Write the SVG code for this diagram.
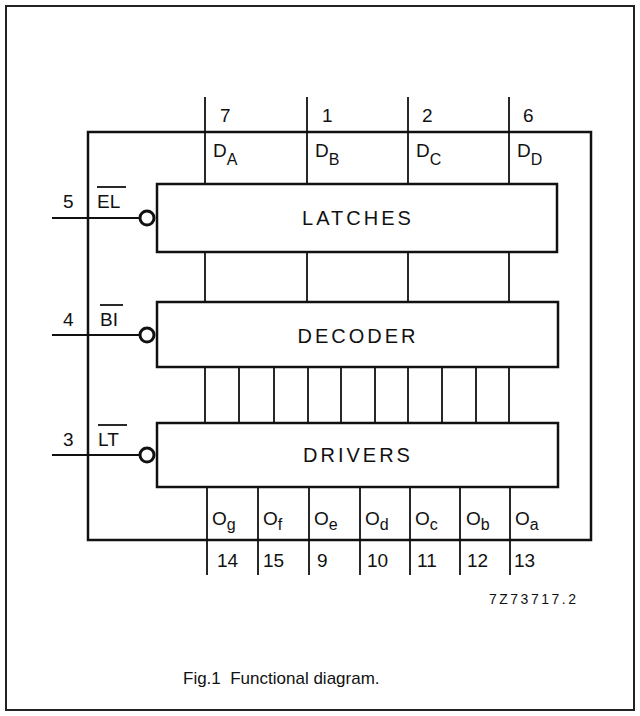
<svg xmlns="http://www.w3.org/2000/svg" width="640" height="716" viewBox="0 0 640 716">
<style>
.frame{fill:none;stroke:#222;stroke-width:2}
.box{fill:#fff;stroke:#111;stroke-width:2.5}
.w{fill:none;stroke:#111;stroke-width:1.8}
.bub{fill:#fff;stroke:#111;stroke-width:3}
text{font-family:"Liberation Sans",Arial,sans-serif;fill:#111}
.lbl{font-size:19px}
.blk{font-size:20px;letter-spacing:3px;text-anchor:middle}
.sub{font-size:16px}
.code{font-size:14px;letter-spacing:2.5px}
.cap{font-size:17px}
</style>
<rect class="frame" x="6" y="6" width="628" height="704"/>
<g id="package">
<rect x="88" y="132" width="503" height="408" fill="none" stroke="#111" stroke-width="2.5"/>
</g>
<g id="connectors">
<path class="w" d="M205 97V184M307 97V184M408 97V184M509 97V184"/>
<path class="w" d="M205 252V302M307 252V302M408 252V302M509 252V302"/>
<path class="w" d="M205 367V423M239 367V423M274 367V423M308 367V423M341 367V423M375 367V423M408 367V423M442 367V423M476 367V423M509 367V423"/>
<path class="w" d="M207 487V575M258 487V575M309 487V575M360 487V575M410 487V575M460 487V575M510 487V575"/>
<path class="w" d="M52 218H139M52 335H139M52 455H139"/>
</g>
<g id="latches">
<rect class="box" x="157" y="184" width="400" height="68"/>
<text class="blk" x="358" y="225">LATCHES</text>
<circle class="bub" cx="147" cy="218" r="7"/>
<text class="lbl" x="63" y="208">5</text>
<text class="lbl" x="97" y="208">EL</text>
<path class="w" d="M97 187H126"/>
</g>
<g id="decoder">
<rect class="box" x="157" y="302" width="401" height="65"/>
<text class="blk" x="358" y="343">DECODER</text>
<circle class="bub" cx="147" cy="335" r="7"/>
<text class="lbl" x="63" y="326">4</text>
<text class="lbl" x="100" y="326">BI</text>
<path class="w" d="M100 305H123"/>
</g>
<g id="drivers">
<rect class="box" x="157" y="423" width="401" height="64"/>
<text class="blk" x="358" y="462">DRIVERS</text>
<circle class="bub" cx="147" cy="455" r="7"/>
<text class="lbl" x="63" y="446">3</text>
<text class="lbl" x="98" y="446">LT</text>
<path class="w" d="M98 425H127"/>
</g>
<g id="inputs">
<text class="lbl" x="220" y="122">7</text>
<text class="lbl" x="322" y="122">1</text>
<text class="lbl" x="422" y="122">2</text>
<text class="lbl" x="523" y="122">6</text>
<text class="lbl" x="213" y="157">D<tspan class="sub" dy="8">A</tspan></text>
<text class="lbl" x="315" y="157">D<tspan class="sub" dy="8">B</tspan></text>
<text class="lbl" x="416" y="157">D<tspan class="sub" dy="8">C</tspan></text>
<text class="lbl" x="517" y="157">D<tspan class="sub" dy="8">D</tspan></text>
</g>
<g id="outputs">
<text class="lbl" x="212" y="525">O<tspan class="sub" dy="5">g</tspan></text>
<text class="lbl" x="263" y="525">O<tspan class="sub" dy="5">f</tspan></text>
<text class="lbl" x="314" y="525">O<tspan class="sub" dy="5">e</tspan></text>
<text class="lbl" x="365" y="525">O<tspan class="sub" dy="5">d</tspan></text>
<text class="lbl" x="415" y="525">O<tspan class="sub" dy="5">c</tspan></text>
<text class="lbl" x="466" y="525">O<tspan class="sub" dy="5">b</tspan></text>
<text class="lbl" x="515" y="525">O<tspan class="sub" dy="5">a</tspan></text>
<text class="lbl" x="217" y="567">14</text>
<text class="lbl" x="263" y="567">15</text>
<text class="lbl" x="317" y="567">9</text>
<text class="lbl" x="367" y="567">10</text>
<text class="lbl" x="417" y="567">11</text>
<text class="lbl" x="467" y="567">12</text>
<text class="lbl" x="514" y="567">13</text>
</g>
<text class="code" x="489" y="604">7Z73717.2</text>
<text class="cap" x="183" y="684" xml:space="preserve">Fig.1  Functional diagram.</text>
</svg>
